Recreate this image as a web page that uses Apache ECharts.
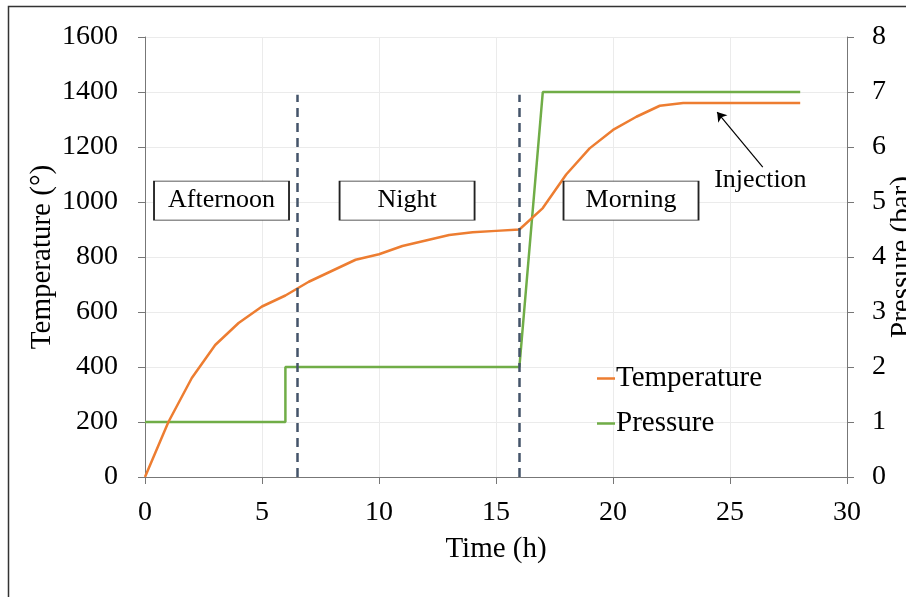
<!DOCTYPE html>
<html>
<head>
<meta charset="utf-8">
<script src="https://cdn.jsdelivr.net/npm/echarts@6/dist/echarts.min.js"></script>
<style>
  html, body { margin: 0; padding: 0; background: #fff; }
  #chart { width: 906px; height: 597px; }
</style>
</head>
<body>
<div id="chart"></div>
<script>
// data
const tempTimes = [0, 1, 2, 3, 4, 5, 6, 7, 8, 9, 10, 11, 12, 13, 14, 15, 16, 17, 18, 19, 20, 21, 22, 23, 24, 25, 26, 27, 28];
const tempValues = [0, 200, 360, 480, 560, 620, 660, 710, 750, 790, 810, 840, 860, 880, 890, 895, 900, 978, 1100, 1195, 1262, 1310, 1350, 1360, 1360, 1360, 1360, 1360, 1360];
const pressTimes = [0, 6, 6, 16, 17, 28];
const pressValues = [1, 1, 2, 2, 7, 7];
const phaseLines = [6.5, 16];
const phaseTop = 1390;
const phaseNames = ['Afternoon', 'Night', 'Morning'];
const phaseAt = [[3.27, 1005], [11.2, 1005], [20.77, 1005]];
const injectionText = [26.3, 1080];
const injectionArrow = [[26.4, 1127], [24.45, 1327]];

const font = 'Liberation Serif';
const chart = echarts.init(document.getElementById('chart'));

const pairs = (xs, ys) => xs.map((x, i) => [x, ys[i]]);
const axisName = { fontFamily: font, fontSize: 29, color: '#000' };
const tickFont = { fontFamily: font, fontSize: 28, color: '#000' };

chart.setOption({
  animation: false,
  textStyle: { fontFamily: font, color: '#000' },
  graphic: [{
    type: 'rect',
    shape: { x: 8.5, y: 6.5, width: 1000, height: 1000 },
    style: { fill: 'none', stroke: '#333', lineWidth: 1.5 },
    silent: true
  }],
  grid: { left: 145, right: 59, top: 37, bottom: 120, outerBoundsMode: 'none' },
  legend: {
    orient: 'vertical',
    left: 592,
    top: 359,
    itemGap: 16,
    itemWidth: 18,
    itemHeight: 2.5,
    icon: 'rect',
    textStyle: { fontFamily: font, fontSize: 29, color: '#000', padding: [0, 0, 0, -4] },
    data: ['Temperature', 'Pressure']
  },
  xAxis: {
    type: 'value',
    min: 0, max: 30, interval: 5,
    name: 'Time (h)',
    nameLocation: 'middle',
    nameGap: 58,
    nameMoveOverlap: false,
    nameTextStyle: axisName,
    axisLine: { show: true, lineStyle: { color: '#777', width: 1 } },
    axisTick: { show: true, length: 7, lineStyle: { color: '#777' } },
    axisLabel: Object.assign({ margin: 22 }, tickFont),
    splitLine: { show: true, lineStyle: { color: '#ebebeb' } }
  },
  yAxis: [{
    type: 'value',
    min: 0, max: 1600, interval: 200,
    name: 'Temperature (°)',
    nameLocation: 'middle',
    nameGap: 88,
    nameMoveOverlap: false,
    nameTextStyle: axisName,
    axisLine: { show: true, lineStyle: { color: '#777', width: 1 } },
    axisTick: { show: true, length: 7, lineStyle: { color: '#777' } },
    axisLabel: Object.assign({ margin: 27, formatter: v => String(v) }, tickFont),
    splitLine: { show: true, lineStyle: { color: '#ebebeb' } }
  }, {
    type: 'value',
    min: 0, max: 8, interval: 1,
    position: 'right',
    name: 'Pressure (bar)',
    nameLocation: 'middle',
    nameGap: 41,
    nameRotate: 90,
    nameMoveOverlap: false,
    nameTextStyle: axisName,
    axisLine: { show: true, lineStyle: { color: '#777', width: 1 } },
    axisTick: { show: true, length: 7, lineStyle: { color: '#777' } },
    axisLabel: Object.assign({ margin: 25 }, tickFont),
    splitLine: { show: false }
  }],
  series: [{
    name: 'Temperature',
    type: 'line',
    yAxisIndex: 0,
    data: pairs(tempTimes, tempValues),
    symbol: 'none',
    color: '#ED7D31',
    lineStyle: { width: 2.5, color: '#ED7D31' },
    z: 3,
    markLine: {
      silent: true,
      symbol: 'none',
      label: { show: false },
      lineStyle: { color: '#44546A', type: [9, 6], width: 2.5 },
      data: phaseLines.map(x => [{ coord: [x, 0] }, { coord: [x, phaseTop] }])
    },
    markPoint: {
      silent: true,
      symbol: 'rect',
      symbolSize: [135, 39],
      itemStyle: { color: '#fff', borderColor: '#222', borderWidth: 1 },
      label: { show: true, position: 'inside', fontFamily: font, fontSize: 26, color: '#000' },
      data: phaseNames.map((n, i) => ({ name: n, coord: phaseAt[i], value: n, label: { formatter: n } }))
    }
  }, {
    name: 'Pressure',
    type: 'line',
    yAxisIndex: 1,
    data: pairs(pressTimes, pressValues),
    symbol: 'none',
    color: '#70AD47',
    lineStyle: { width: 2.5, color: '#70AD47' },
    z: 2
  }, {
    name: 'annot',
    type: 'scatter',
    yAxisIndex: 0,
    data: [],
    silent: true,
    markPoint: {
      symbol: 'rect',
      symbolSize: 1,
      itemStyle: { color: 'rgba(0,0,0,0)' },
      label: { show: true, position: 'inside', fontFamily: font, fontSize: 26, color: '#000', formatter: 'Injection' },
      data: [{ coord: injectionText }]
    },
    markLine: {
      symbol: ['none', 'arrow'],
      symbolSize: 9,
      label: { show: false },
      lineStyle: { color: '#000', type: 'solid', width: 1.2 },
      data: [[{ coord: injectionArrow[0] }, { coord: injectionArrow[1] }]]
    }
  }]
});
</script>
</body>
</html>
